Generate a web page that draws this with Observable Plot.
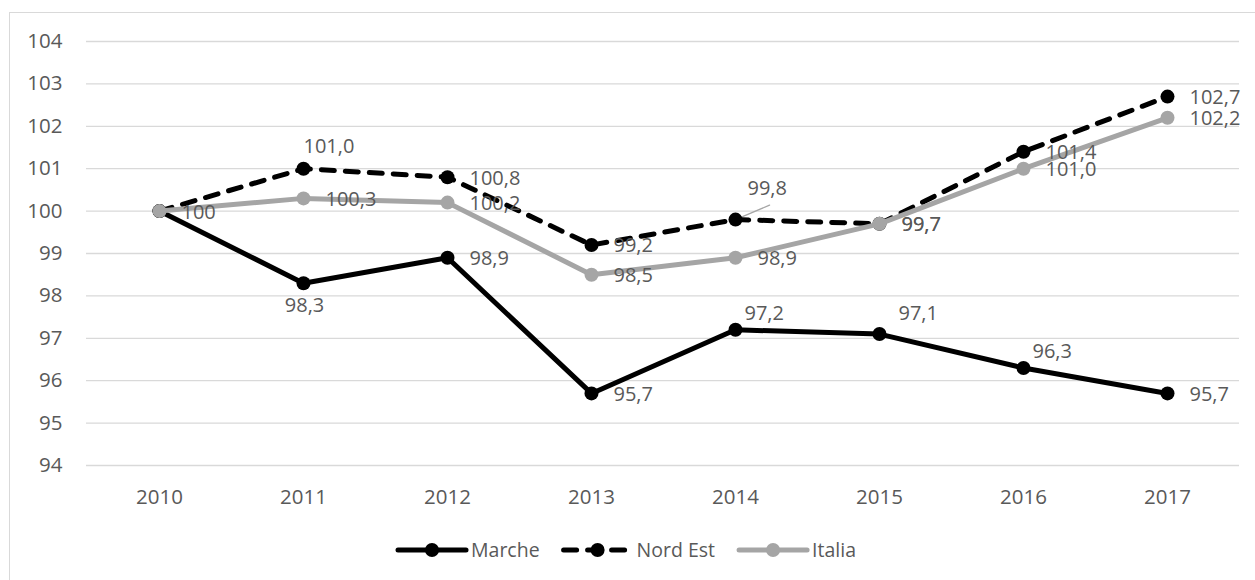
<!DOCTYPE html>
<html>
<head>
<meta charset="utf-8">
<script src="https://cdn.jsdelivr.net/npm/d3@7"></script>
<script src="https://cdn.jsdelivr.net/npm/@observablehq/plot@0.6"></script>
<style>
  html, body { margin: 0; padding: 0; background: #ffffff; }
  #wrap { position: relative; width: 1255px; height: 580px; overflow: hidden; font-family: "Open Sans", sans-serif; }
  #frame { position: absolute; left: 9px; top: 12px; width: 1260px; height: 600px; border-top: 1px solid #d9d9d9; border-left: 1px solid #d9d9d9; box-sizing: border-box; }
  #chart { position: absolute; left: 0; top: 0; }
  #legend { position: absolute; left: 0; top: 520px; }
</style>
</head>
<body>
<div id="wrap">
  <div id="frame"></div>
  <div id="chart"></div>
  <div id="legend"></div>
</div>
<script>
// ---- data ----
const years = ["2010", "2011", "2012", "2013", "2014", "2015", "2016", "2017"];
const marche  = [100, 98.3, 98.9, 95.7, 97.2, 97.1, 96.3, 95.7];
const nordEst = [100, 101.0, 100.8, 99.2, 99.8, 99.7, 101.4, 102.7];
const italia  = [100, 100.3, 100.2, 98.5, 98.9, 99.7, 101.0, 102.2];
const yTicks = [94, 95, 96, 97, 98, 99, 100, 101, 102, 103, 104];
const seriesNames = ["Marche", "Nord Est", "Italia"];
// label placement per point (named modes, mapped to offsets in code)
const marchePos  = ["none", "below", "right", "right", "upRight", "upRightWide", "upRight", "right"];
const nordEstPos = ["none", "above", "right", "right", "leader", "right", "right", "right"];
const italiaPos  = ["right", "right", "right", "right", "right", "right", "right", "right"];

// ---- styles ----
const seriesValues = [marche, nordEst, italia];
const seriesPos = [marchePos, nordEstPos, italiaPos];
const styles = {
  "Marche":   {color: "#000000", dash: null},
  "Nord Est": {color: "#000000", dash: "13,11"},
  "Italia":   {color: "#a5a5a5", dash: null}
};
const placement = {
  right:       {textAnchor: "start",  dx: 22, dy: 1},
  below:       {textAnchor: "middle", dx: 1,  dy: 22},
  above:       {textAnchor: "start",  dx: 0,  dy: -22},
  upRight:     {textAnchor: "start",  dx: 9,  dy: -16},
  upRightWide: {textAnchor: "start",  dx: 19, dy: -20},
  leader:      {textAnchor: "start",  dx: 12, dy: -31}
};
const fmt = (d) => d.year === years[0] ? String(d.value) : d.value.toFixed(1).replace(".", ",");

const rows = seriesNames.flatMap((name, s) =>
  years.map((year, i) => ({series: name, year, value: seriesValues[s][i], pos: seriesPos[s][i]}))
);

const marks = [
  Plot.gridY(yTicks, {stroke: "#d9d9d9", strokeOpacity: 1, strokeWidth: 1.3}),
  Plot.axisY(yTicks, {tickSize: 0, tickPadding: 24, tickFormat: d => String(d), label: null, fontSize: 20.5, fill: "#595959"}),
  Plot.axisX(years, {tickSize: 0, tickPadding: 24, label: null, fontSize: 20.5, fill: "#595959"})
];

// leader line for labels placed away from their point
const leaderRows = rows.filter(d => d.pos === "leader");
let leaderMark;
try {
  leaderMark = Plot.vector(leaderRows, {
    x: "year", y: "value", anchor: "start", length: 37, rotate: 67,
    stroke: "#a5a5a5", strokeWidth: 1.3,
    shape: {draw(context, l) { context.moveTo(0, 0); context.lineTo(0, -l); }}
  });
} catch (e) {
  leaderMark = Plot.vector(leaderRows, {
    x: "year", y: "value", anchor: "start", length: 37, rotate: 67,
    stroke: "#a5a5a5", strokeWidth: 1.3
  });
}
marks.push(leaderMark);

for (const name of seriesNames) {
  const st = styles[name];
  const data = rows.filter(d => d.series === name);
  marks.push(Plot.line(data, {
    x: "year", y: "value", stroke: st.color, strokeWidth: 5,
    strokeLinejoin: "round", strokeLinecap: "round",
    strokeDasharray: st.dash || undefined
  }));
  marks.push(Plot.dot(data, {x: "year", y: "value", r: 7, fill: st.color, stroke: "none"}));
}

for (const [mode, p] of Object.entries(placement)) {
  const data = rows.filter(d => d.pos === mode);
  if (!data.length) continue;
  marks.push(Plot.text(data, {
    x: "year", y: "value", text: fmt,
    textAnchor: p.textAnchor, dx: p.dx, dy: p.dy,
    fill: "#595959", fontSize: 20, lineAnchor: "middle"
  }));
}

const chart = Plot.plot({
  width: 1255,
  height: 520,
  marginLeft: 86,
  marginRight: 16,
  marginTop: 41,
  marginBottom: 55,
  x: {type: "point", domain: years, padding: 0.5, axis: null},
  y: {domain: [94, 104], axis: null},
  style: {fontFamily: "'Open Sans', sans-serif", fontSize: "20px", color: "#595959", background: "transparent", overflow: "visible"},
  marks
});
document.getElementById("chart").appendChild(chart);

// ---- legend ----
const lw = 1255, lh = 60, ly = 30;
const legend = d3.select("#legend").append("svg")
  .attr("width", lw).attr("height", lh)
  .style("font-family", "'Open Sans', sans-serif").style("font-size", "19.5px");
const items = seriesNames.map(name => {
  const g = legend.append("g");
  const st = styles[name];
  g.append("line").attr("x1", 0).attr("x2", 68).attr("y1", ly).attr("y2", ly)
    .attr("stroke", st.color).attr("stroke-width", 5).attr("stroke-linecap", "round")
    .attr("stroke-dasharray", st.dash);
  g.append("circle").attr("cx", 34).attr("cy", ly).attr("r", 7).attr("fill", st.color);
  const t = g.append("text").attr("x", 73).attr("y", ly).attr("dy", "0.35em")
    .attr("fill", "#595959").text(name);
  return {g, w: 73 + t.node().getComputedTextLength()};
});
const gap = 24;
const total = d3.sum(items, d => d.w) + gap * (items.length - 1);
let x0 = 627 - total / 2;
for (const it of items) {
  it.g.attr("transform", `translate(${x0},0)`);
  x0 += it.w + gap;
}
</script>
</body>
</html>
